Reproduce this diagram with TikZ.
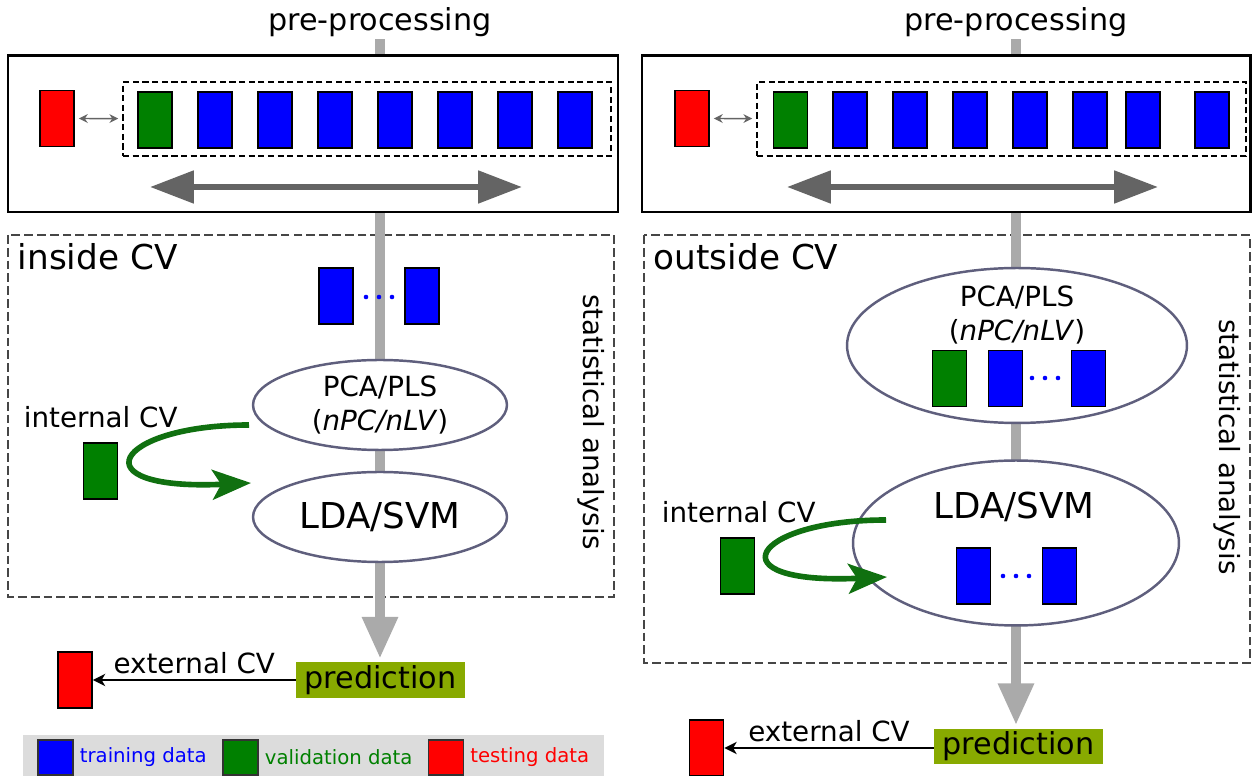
\documentclass[tikz,border=0pt]{standalone}
\usepackage{fontspec}
\setmainfont{DejaVu Sans}
\usepackage{tikz}
\usetikzlibrary{arrows.meta,shapes.geometric}
\definecolor{flowgray}{RGB}{170,170,170}
\definecolor{arrgray}{RGB}{100,100,100}
\definecolor{boxgray}{RGB}{70,70,70}
\definecolor{ellline}{RGB}{95,95,125}
\definecolor{valgreen}{RGB}{0,128,0}
\definecolor{cvgreen}{RGB}{16,112,16}
\definecolor{predolive}{RGB}{136,170,0}
\definecolor{leggray}{RGB}{220,220,220}
\newcommand{\fhead}{\fontsize{17.2pt}{20pt}\selectfont}
\newcommand{\fcv}{\fontsize{19.5pt}{23pt}\selectfont}
\newcommand{\fmod}{\fontsize{20.3pt}{24pt}\selectfont}
\newcommand{\fpca}{\fontsize{15.8pt}{19.5pt}\selectfont}
\newcommand{\flab}{\fontsize{15.8pt}{19pt}\selectfont}
\newcommand{\fleg}{\fontsize{11.2pt}{13pt}\selectfont}
\newcommand{\pcapls}{PCA/PLS\\(\textit{nPC/nLV})}
\tikzset{
  datbox/.style={draw=black, line width=1pt, minimum width=0.68cm, minimum height=1.12cm, inner sep=0pt},
  train/.style={datbox, fill=blue},
  valid/.style={datbox, fill=valgreen},
  test/.style={datbox, fill=red},
  legbox/.style={draw=black!80, line width=0.8pt, minimum size=0.7cm, inner sep=0pt},
  fold/.style={draw=black, line width=0.9pt, dash pattern=on 3.5pt off 2pt, minimum height=1.48cm, inner sep=0pt},
  model/.style={ellipse, draw=ellline, line width=1.4pt, fill=white, inner sep=0pt},
  pred/.style={fill=predolive, minimum width=3.38cm, minimum height=0.72cm, inner sep=0pt, font=\fhead},
  flow/.style={draw=flowgray, line width=6pt, -{Triangle[length=24pt,width=19pt]}, shorten >=1.5pt},
  biarr/.style={draw=arrgray, line width=0.8pt, {Stealth[length=5pt,width=5pt]}-{Stealth[length=5pt,width=5pt]}, shorten <=2.3pt, shorten >=2.3pt},
  slide/.style={draw=arrgray, line width=3.6pt, {Triangle[length=25pt,width=18pt]}-{Triangle[length=25pt,width=18pt]}},
  cvloop/.style={draw=cvgreen, line width=3.2pt, -{Stealth[length=22pt,width=17pt,inset=5pt]}},
  ext/.style={draw=black, line width=1.1pt, -{Stealth[length=7pt,width=7pt,inset=2pt]}},
  cvbox/.style={draw=boxgray, line width=1.6pt, dash pattern=on 5pt off 2.3pt},
  legtxt/.style={right, font=\fleg}
}
\begin{document}
\begin{tikzpicture}[x=0.02cm,y=-0.02cm]
   \useasboundingbox (0,0) rectangle (1252,776);
   \node[font=\fhead, anchor=base, inner sep=1pt] (pre1) at (380,31) {pre-processing};
   \node[font=\fhead, anchor=base, inner sep=1pt] (pre2) at (1016,31) {pre-processing};
   \node[pred] (pred1) at (380.5,680) {prediction};
   \node[pred] (pred2) at (1018.5,746.5) {prediction};
   \draw[cvbox] (8,235) rectangle (614,597);
   \draw[cvbox] (644,235) rectangle (1250,663);
   \draw[flow] (pre1.south) -- (pre1.south |- pred1.north);
   \draw[flow] (pre2.south) -- (pre2.south |- pred2.north);
   \draw[line width=1.7pt, fill=white] (8,56) rectangle (618,212);
   \draw[line width=1.7pt, fill=white] (642,56) rectangle (1250,212);
   % data split
   \node[test] (te1) at (57,118.5) {};
   \node[fold, minimum width=9.76cm] (fold1) at (367,119) {};
   \draw[biarr] (te1) -- (fold1);
   \node[valid] (va1) at (155,120) {};
   \foreach \i in {1,...,7} {
    \node[train] (tr1\i) at (155+60*\i,120) {};
   }
   \coordinate (sl1) at (150,187);
   \coordinate (sr1) at (522,187);
   \draw[slide] (sl1) -- (sr1);
   \node[test] (te2) at (692,118.5) {};
   \node[fold, minimum width=9.78cm] (fold2) at (1001.5,119) {};
   \draw[biarr] (te2) -- (fold2);
   \node[valid] (va2) at (790.5,120) {};
   \foreach \x [count=\i] in {850,910,970,1030,1090,1143,1212} {
    \node[train] (tr2\i) at (\x,120) {};
   }
   \coordinate (sl2) at (787,187);
   \coordinate (sr2) at (1158,187);
   \draw[slide] (sl2) -- (sr2);
   % inside CV
   \node[font=\fcv, anchor=west, inner sep=2pt] (in1) at (14,257) {inside CV};
   \node[train] (ta1) at (336,296) {};
   \node[train] (tb1) at (422,296) {};
   \foreach \x in {366,379,392} {
    \fill[blue] (\x,297) circle (1.3pt);
   }
   \node[model, minimum width=5.08cm, minimum height=1.8cm, font=\fpca, align=center] (pca1) at (380,405) {\pcapls};
   \node[model, minimum width=5.08cm, minimum height=1.8cm, font=\fmod] (lda1) at (380,517) {LDA/SVM};
   \node[font=\flab, rotate=-90] (sa1) at (591,422) {statistical analysis};
   \node[font=\flab, anchor=west, inner sep=2pt] (ic1) at (20,417) {internal CV};
   \node[valid] (iv1) at (100.5,471) {};
   \coordinate (cs1) at (249,425);
   \coordinate (ce1) at (251,483);
   \draw[cvloop] (cs1) .. controls +(-135,0) and +(-175,8) .. (ce1);
   % outside CV
   \node[font=\fcv, anchor=west, inner sep=2pt] (out2) at (650,257) {outside CV};
   \node[model, minimum width=6.8cm, minimum height=3.1cm] (pca2) at (1017,345.5) {};
   \node[font=\fpca, align=center] (pt2) at (1017,315) {\pcapls};
   \node[valid] (pv2) at (949.5,378.5) {};
   \node[train] (pa2) at (1005.5,378.5) {};
   \node[train] (pb2) at (1088.5,378.5) {};
   \foreach \x in {1032,1045,1058} {
    \fill[blue] (\x,378) circle (1.3pt);
   }
   \node[model, minimum width=6.52cm, minimum height=3.3cm] (lda2) at (1016,543) {};
   \node[font=\fmod] (lt2) at (1014,507) {LDA/SVM};
   \node[train] (la2) at (973.5,576) {};
   \node[train] (lb2) at (1059.5,576) {};
   \foreach \x in {1003,1016,1029} {
    \fill[blue] (\x,576) circle (1.3pt);
   }
   \node[font=\flab, rotate=-90] (sa2) at (1227,447) {statistical analysis};
   \node[font=\flab, anchor=west, inner sep=2pt] (ic2) at (658,512) {internal CV};
   \node[valid] (iv2) at (737.5,566) {};
   \coordinate (cs2) at (886,520);
   \coordinate (ce2) at (887,577);
   \draw[cvloop] (cs2) .. controls +(-135,0) and +(-175,8) .. (ce2);
   % prediction
   \node[test] (tx1) at (75,680) {};
   \draw[ext] (pred1.west) -- (tx1.east) node[midway, above, inner sep=2.8pt, font=\flab] {external CV};
   \node[test] (tx2) at (706.5,748) {};
   \draw[ext] (pred2.west |- tx2) -- (tx2.east) node[midway, above, inner sep=2.8pt, font=\flab] {external CV};
   % legend
   \fill[leggray] (23,735) rectangle (604,776);
   \node[legbox, fill=blue] (lg1) at (55.5,757.5) {};
   \node[legtxt, text=blue] (lx1) at (lg1.east) {training data};
   \node[legbox, fill=valgreen] (lg2) at (240.5,757.5) {};
   \node[legtxt, text=valgreen] (lx2) at (lg2.east) {validation data};
   \node[legbox, fill=red] (lg3) at (446,757.5) {};
   \node[legtxt, text=red] (lx3) at (lg3.east) {testing data};
  \end{tikzpicture}
\end{document}
